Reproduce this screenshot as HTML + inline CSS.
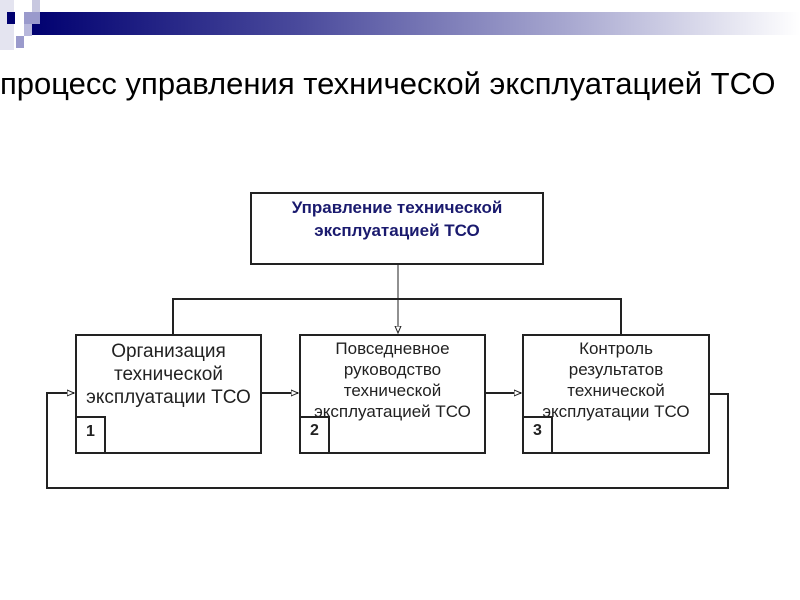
<!DOCTYPE html>
<html><head><meta charset="utf-8"><style>
body{margin:0;width:800px;height:600px;background:#fff;overflow:hidden;position:relative;font-family:"Liberation Sans",sans-serif}
.t{position:absolute;text-align:center;color:#222;white-space:nowrap}
</style></head><body>
<svg width="800" height="600" style="position:absolute;left:0;top:0">
<defs>
<linearGradient id="g" x1="0" x2="1"><stop offset="0" stop-color="#000070"/><stop offset="0.35" stop-color="#4a4a9c"/><stop offset="0.7" stop-color="#a8a8d0"/><stop offset="1" stop-color="#ffffff"/></linearGradient>
<marker id="a" markerWidth="8" markerHeight="8" refX="7" refY="4" orient="auto" markerUnits="userSpaceOnUse"><path d="M0,1 L7,4 L0,7 Z" fill="#fff" stroke="#222" stroke-width="1"/></marker>
</defs>
<rect x="30" y="12" width="770" height="23" fill="url(#g)"/>
<rect x="0" y="0" width="14" height="50" fill="#e4e4f0"/>
<rect x="7" y="12" width="8" height="12" fill="#000070"/>
<rect x="32" y="0" width="8" height="12" fill="#c8c8e0"/>
<rect x="24" y="12" width="16" height="12" fill="#9a9acc"/>
<rect x="24" y="24" width="8" height="12" fill="#b8b8dc"/>
<rect x="16" y="36" width="8" height="12" fill="#9a9acc"/>
<g stroke="#222" fill="none" stroke-width="2">
<rect x="251" y="193" width="292" height="71"/>
<rect x="76" y="335" width="185" height="118"/>
<rect x="300" y="335" width="185" height="118"/>
<rect x="523" y="335" width="186" height="118"/>
<rect x="76" y="417" width="29" height="36"/>
<rect x="300" y="417" width="29" height="36"/>
<rect x="523" y="417" width="29" height="36"/>
<polyline points="173,335 173,299 621,299 621,335"/>
<line x1="261" y1="393" x2="298" y2="393" marker-end="url(#a)"/>
<line x1="485" y1="393" x2="521" y2="393" marker-end="url(#a)"/>
<polyline points="709,394 728,394 728,488 47,488 47,393 74,393" marker-end="url(#a)"/>
</g>
<line x1="398" y1="264" x2="398" y2="333" stroke="#222" stroke-width="1" marker-end="url(#a)"/>
</svg>
<div class="t" style="left:0;top:66px;width:800px;text-align:left;font-size:31px;color:#000">процесс управления технической эксплуатацией ТСО</div>
<div class="t" style="left:251px;top:196px;width:292px;font-size:17px;font-weight:bold;color:#1a1a6e;line-height:23px">Управление технической<br>эксплуатацией ТСО</div>
<div class="t" style="left:66px;top:340px;width:205px;font-size:19px;line-height:23px">Организация<br>технической<br>эксплуатации ТСО</div>
<div class="t" style="left:290px;top:338px;width:205px;font-size:17px;line-height:21px">Повседневное<br>руководство<br>технической<br>эксплуатацией ТСО</div>
<div class="t" style="left:513px;top:338px;width:206px;font-size:17px;line-height:21px">Контроль<br>результатов<br>технической<br>эксплуатации ТСО</div>
<div class="t" style="left:76px;top:423px;width:29px;font-size:16px;font-weight:bold">1</div>
<div class="t" style="left:300px;top:422px;width:29px;font-size:16px;font-weight:bold">2</div>
<div class="t" style="left:523px;top:422px;width:29px;font-size:16px;font-weight:bold">3</div>
</body></html>
